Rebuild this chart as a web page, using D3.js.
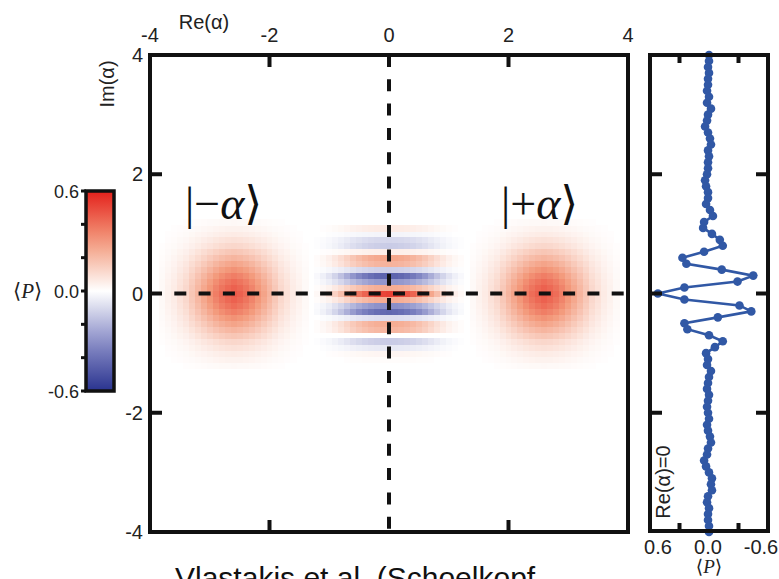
<!doctype html>
<html>
<head>
<meta charset="UTF-8" />
<title>cat state wigner</title>
<script src="https://d3js.org/d3.v7.min.js"></script>
<style>
  body { margin: 0; background: #fff; }
  text { font-family: "Liberation Sans", Arial, sans-serif; fill: #222; }
  .serif { font-family: "Liberation Serif", "DejaVu Serif", serif; }
</style>
</head>
<body>
<div id="chart"></div>
<script>

// tick labels
const reTicks = [-4, -2, 0, 2, 4];
const imTicks = [4, 2, 0, -2, -4];
const cbarTicks = [0.6, 0.4, 0.2, 0.0, -0.2, -0.4, -0.6];
const cbarLabels = ["0.6", "0.0", "-0.6"];
const profTicks = ["0.6", "0.0", "-0.6"];

// <P> along Re(alpha)=0, Im from 4 down to -4 in steps of 0.1
const profile = [
  0.00, 0.00, 0.01, 0.00, 0.01, 0.01, 0.02, 0.00, 0.02, -0.02,
  0.01, 0.02, 0.04, 0.01, -0.01, -0.02, 0.01, 0.00, 0.01, 0.01,
  0.02, 0.04, 0.03, 0.01, 0.01, 0.03, -0.01, -0.04, 0.05, 0.06,
  -0.03, -0.11, -0.14, 0.05, 0.27, 0.23, -0.13, -0.45, -0.29, 0.25,
  0.52,
  0.25, -0.31, -0.43, -0.09, 0.25, 0.22, 0.00, -0.14, -0.06, 0.03,
  0.01, 0.02, -0.02, 0.00, 0.01, 0.02, 0.00, 0.01, 0.02, 0.01,
  0.00, 0.02, 0.01, -0.01, -0.02, 0.01, 0.02, 0.05, 0.03, 0.00,
  -0.03, -0.02, -0.03, 0.01, 0.02, 0.00, 0.01, 0.01, 0.00, 0.00
];

// coherent blobs: centres and cut through a blob (offset -1.2 .. 1.2)
const blobRe = [-2.6, 2.6];
const blobIm = [0, 0];
const blobCut = [0.02, 0.04, 0.06, 0.09, 0.12, 0.17, 0.22, 0.27, 0.32, 0.37, 0.41, 0.44, 0.46,
                 0.44, 0.41, 0.37, 0.32, 0.27, 0.22, 0.17, 0.12, 0.09, 0.06, 0.04, 0.02];
// how the fringes fade along Re (offset 0 .. 1.2 from Re=0)
const fringeEnv = [1, 0.98, 0.95, 0.9, 0.83, 0.74, 0.63, 0.5, 0.37, 0.26, 0.16, 0.09, 0.04];
// fringes only show for |Im| up to this
const fringeImMax = 1.1;

const grid = d3.range(81).map(i => Math.round((-4 + i * 0.1) * 10) / 10);

const W = 779, H = 579;
const svg = d3.select("#chart").append("svg")
    .attr("width", W).attr("height", H);

// scales
const x = d3.scaleLinear().domain([-4, 4]).range([150, 628]);
const y = d3.scaleLinear().domain([-4, 4]).range([532, 55]);
const xp = d3.scaleLinear().domain([0.6, -0.6]).range([650, 768]);
const color = d3.scaleLinear()
    .domain([-0.6, -0.3, 0, 0.3, 0.6])
    .range(["#29338f", "#8c90c9", "#ffffff", "#f39a7c", "#e4201b"])
    .clamp(true);

// build the cells
const cells = [];
grid.forEach((re, i) => {
  grid.forEach((im, j) => {
    let v = 0;
    const fi = Math.abs(i - 40);
    if (fi < fringeEnv.length && Math.abs(im) <= fringeImMax) v += fringeEnv[fi] * profile[80 - j];
    blobRe.forEach((c, k) => {
      const di = Math.round((re - c) * 10) + 12;
      const dj = Math.round((im - blobIm[k]) * 10) + 12;
      if (di >= 0 && di < blobCut.length && dj >= 0 && dj < blobCut.length)
        v += blobCut[di] * blobCut[dj] / 0.46;
    });
    if (Math.abs(v) > 0.004) cells.push({re, im, v});
  });
});

svg.append("clipPath").attr("id", "clip")
  .append("rect").attr("x", 150).attr("y", 55).attr("width", 478).attr("height", 477);

const cw = x(0.1) - x(0);
svg.append("g").attr("clip-path", "url(#clip)")
  .selectAll("rect").data(cells).join("rect")
    .attr("x", d => x(d.re - 0.05))
    .attr("y", d => y(d.im + 0.05))
    .attr("width", cw + 0.6)
    .attr("height", cw + 0.6)
    .attr("fill", d => color(d.v))
    .attr("shape-rendering", "crispEdges");

// dashed axes through the origin
svg.append("line")
    .attr("x1", x(-4)).attr("x2", x(4)).attr("y1", y(0)).attr("y2", y(0))
    .attr("stroke", "#111").attr("stroke-width", 4).attr("stroke-dasharray", "12,12.3");
svg.append("line")
    .attr("x1", x(0)).attr("x2", x(0)).attr("y1", y(4)).attr("y2", y(-4))
    .attr("stroke", "#111").attr("stroke-width", 4).attr("stroke-dasharray", "12,12.3");

// frame + inward ticks
svg.append("rect")
    .attr("x", 150).attr("y", 55).attr("width", 478).attr("height", 477)
    .attr("fill", "none").attr("stroke", "#111").attr("stroke-width", 4);

const tk = svg.append("g").attr("stroke", "#111").attr("stroke-width", 4);
[-2, 2].forEach(v => {
  tk.append("line").attr("x1", x(v)).attr("x2", x(v)).attr("y1", 55).attr("y2", 67);
  tk.append("line").attr("x1", x(v)).attr("x2", x(v)).attr("y1", 532).attr("y2", 520);
  tk.append("line").attr("y1", y(v)).attr("y2", y(v)).attr("x1", 150).attr("x2", 162);
});

// tick labels
svg.append("g").selectAll("text").data(reTicks).join("text")
    .attr("x", d => x(d)).attr("y", 42)
    .attr("text-anchor", "middle").attr("font-size", 20)
    .text(d => d);
svg.append("g").selectAll("text").data(imTicks).join("text")
    .attr("x", 143).attr("y", d => y(d) + 7)
    .attr("text-anchor", "end").attr("font-size", 20)
    .text(d => d);

svg.append("text").attr("x", 204).attr("y", 29)
    .attr("text-anchor", "middle").attr("font-size", 20).text("Re(α)");
svg.append("text")
    .attr("transform", "translate(114,84) rotate(-90)")
    .attr("text-anchor", "middle").attr("font-size", 20).text("Im(α)");

// ket labels
const ket = (x0, sign) => {
  const t = svg.append("text").attr("class", "serif")
      .attr("x", x0).attr("y", 219).attr("font-size", 46).style("fill", "#111");
  t.append("tspan").text("|");
  t.append("tspan").text(sign);
  t.append("tspan").attr("font-style", "italic").text("α");
  t.append("tspan").text("⟩");
};
ket(185, "−");
ket(501, "+");

// colour bar
const cb = d3.scaleLinear().domain([-0.6, 0.6]).range([391, 191]);
const grad = svg.append("defs").append("linearGradient")
    .attr("id", "cgrad").attr("x1", 0).attr("x2", 0).attr("y1", 1).attr("y2", 0);
d3.range(0, 1.001, 0.1).forEach(t => {
  grad.append("stop").attr("offset", t).attr("stop-color", color(-0.6 + 1.2 * t));
});
svg.append("rect")
    .attr("x", 86).attr("y", 191).attr("width", 28).attr("height", 200)
    .attr("fill", "url(#cgrad)").attr("stroke", "#111").attr("stroke-width", 3.5);
svg.append("g").attr("stroke", "#111").attr("stroke-width", 3)
  .selectAll("line").data(cbarTicks).join("line")
    .attr("x1", 81).attr("x2", 86).attr("y1", d => cb(d)).attr("y2", d => cb(d));
svg.append("g").selectAll("text").data(cbarLabels).join("text")
    .attr("x", 79).attr("y", d => cb(+d) + 7)
    .attr("text-anchor", "end").attr("font-size", 18)
    .text(d => d);
const pl = svg.append("text").attr("class", "serif")
    .attr("x", 13).attr("y", cb(0) + 7).attr("font-size", 21);
pl.append("tspan").text("⟨");
pl.append("tspan").attr("font-style", "italic").text("P");
pl.append("tspan").text("⟩");

// right panel: profile along Re(alpha)=0
const pts = profile.map((p, i) => ({p, im: grid[80 - i]}));
svg.append("path").datum(pts)
    .attr("d", d3.line().x(d => xp(d.p)).y(d => y(d.im)))
    .attr("fill", "none").attr("stroke", "#3158a5").attr("stroke-width", 2.6);
svg.append("g").selectAll("circle").data(pts).join("circle")
    .attr("cx", d => xp(d.p)).attr("cy", d => y(d.im))
    .attr("r", 4.3).attr("fill", "#3158a5");

svg.append("rect")
    .attr("x", 650).attr("y", 55).attr("width", 118).attr("height", 476)
    .attr("fill", "none").attr("stroke", "#111").attr("stroke-width", 4);
const tk2 = svg.append("g").attr("stroke", "#111").attr("stroke-width", 4);
[0.3, -0.3].forEach(v => {
  tk2.append("line").attr("x1", xp(v)).attr("x2", xp(v)).attr("y1", 55).attr("y2", 63);
  tk2.append("line").attr("x1", xp(v)).attr("x2", xp(v)).attr("y1", 531).attr("y2", 523);
});
[2, 0, -2].forEach(v => {
  tk2.append("line").attr("y1", y(v)).attr("y2", y(v)).attr("x1", 650).attr("x2", 662);
  tk2.append("line").attr("y1", y(v)).attr("y2", y(v)).attr("x1", 768).attr("x2", 756);
});
const nudge = {"0.6": 8, "0.0": -1, "-0.6": -7};
svg.append("g").selectAll("text").data(profTicks).join("text")
    .attr("x", d => xp(+d) + nudge[d]).attr("y", 554)
    .attr("text-anchor", "middle").attr("font-size", 20)
    .text(d => d);
const pl2 = svg.append("text").attr("class", "serif")
    .attr("x", 709).attr("y", 573).attr("text-anchor", "middle").attr("font-size", 19);
pl2.append("tspan").text("⟨");
pl2.append("tspan").attr("font-style", "italic").text("P");
pl2.append("tspan").text("⟩");
svg.append("text")
    .attr("transform", "translate(670,482) rotate(-90)")
    .attr("text-anchor", "middle").attr("font-size", 20).text("Re(α)=0");

// caption (cut off at the bottom edge, as in the source slide)
svg.append("text").attr("x", 175).attr("y", 588)
    .attr("font-family", "Lato, 'Open Sans', sans-serif").attr("font-size", 30)
    .style("fill", "#111")
    .text("Vlastakis et al. (Schoelkopf");

</script>
</body>
</html>
